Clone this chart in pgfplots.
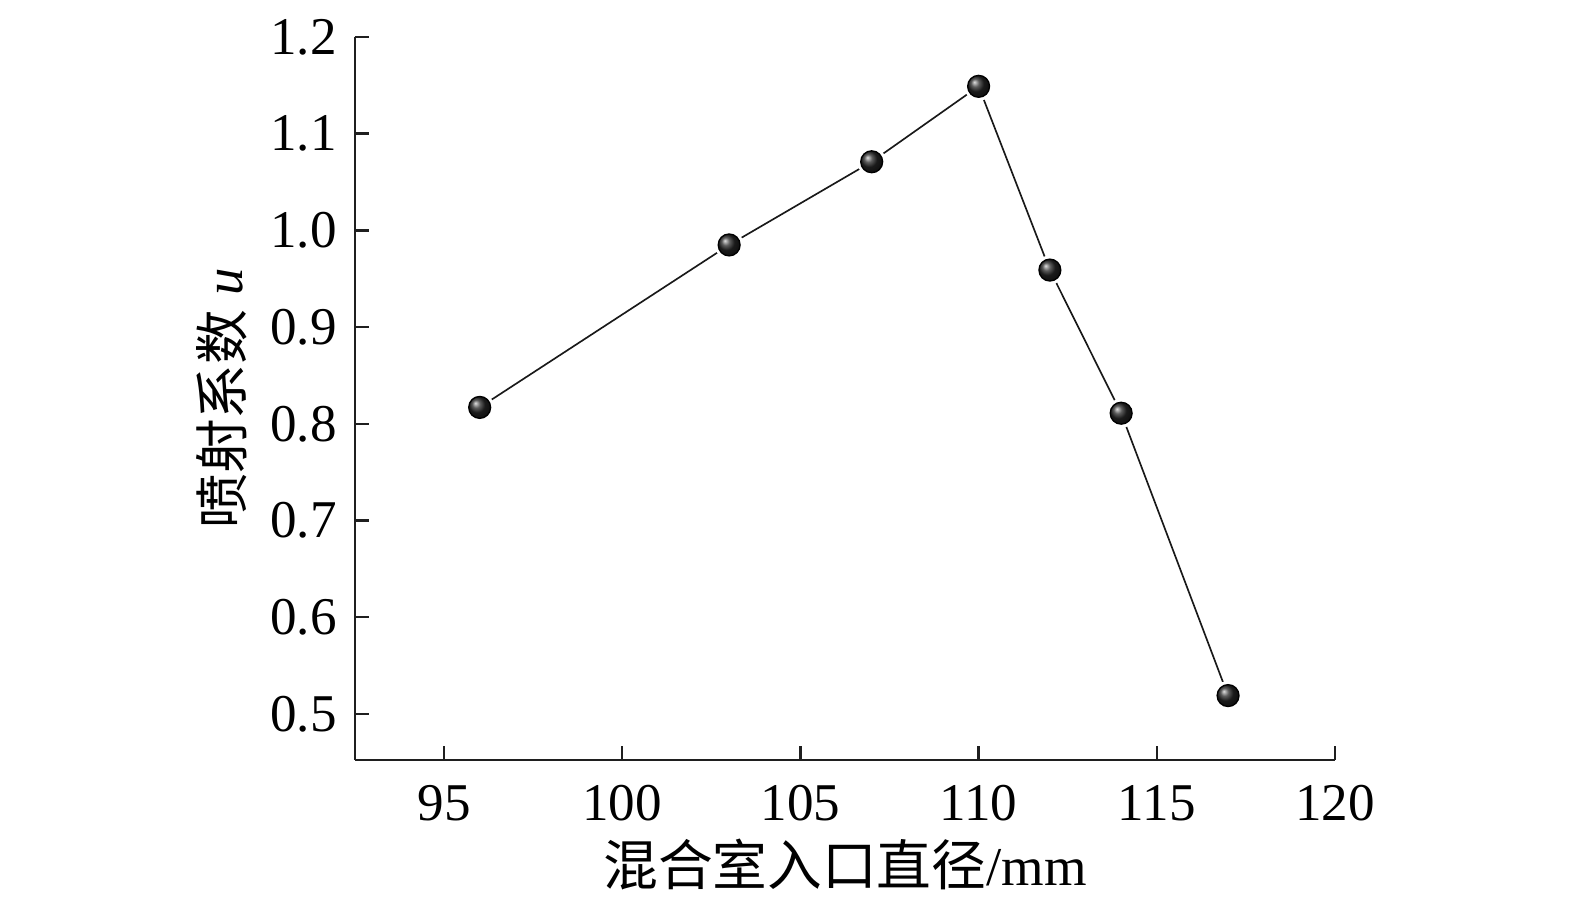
\documentclass[border=0pt]{standalone}
\usepackage{pgfplots}
\pgfplotsset{compat=1.18}
\usepackage{fontspec}
\setmainfont{Liberation Serif}
\newfontfamily\cjk{Noto Sans CJK SC}

\begin{document}
\begin{tikzpicture}
\begin{axis}[
  scale only axis,
  width=295.5pt, height=218pt,
  xmin=92.5, xmax=120,
  ymin=0.4524, ymax=1.2,
  axis x line*=bottom, axis y line*=left,
  axis line style={-, line width=0.75pt, black!88},
  tick style={line width=0.75pt, black!88},
  tick align=inside,
  major tick length=4.2pt,
  xtick={95,100,...,120},
  ytick={0.5,0.6,...,1.2},
  /pgf/number format/assume math mode=true,
  ticklabel style={font=\fontsize{16}{18}\selectfont},
  xticklabel style={yshift=-4pt},
  yticklabel style={xshift=-2pt, /pgf/number format/.cd, fixed, fixed zerofill, precision=1},
  xlabel={{\cjk 混合室入口直径}/mm},
  ylabel={{\cjk 喷射系数} \textit{u}},
  every axis x label/.style={at={(axis description cs:0.5,-0.145)}, anchor=center, font=\fontsize{16.5}{19}\selectfont},
  every axis y label/.style={at={(axis description cs:-0.1357,0.5)}, anchor=center, rotate=90, font=\fontsize{16.5}{19}\selectfont},
  clip=false,
]
\path (rel axis cs:-0.3622,-0.2089) rectangle (rel axis cs:1.2449,1.0512);

\addplot[line width=0.5pt, black!90, mark=none] coordinates {
  (96,0.817) (103,0.985) (107,1.071) (110,1.149) (112,0.959) (114,0.811) (117,0.519)
};
\addplot[only marks, mark=*, white, mark size=4.2pt] coordinates {
  (96,0.817) (103,0.985) (107,1.071) (110,1.149) (112,0.959) (114,0.811) (117,0.519)
};
\addplot[only marks, mark=ball, mark size=3.3pt, mark options={ball color=black!85}] coordinates {
  (96,0.817) (103,0.985) (107,1.071) (110,1.149) (112,0.959) (114,0.811) (117,0.519)
};
\end{axis}
\end{tikzpicture}
\end{document}
